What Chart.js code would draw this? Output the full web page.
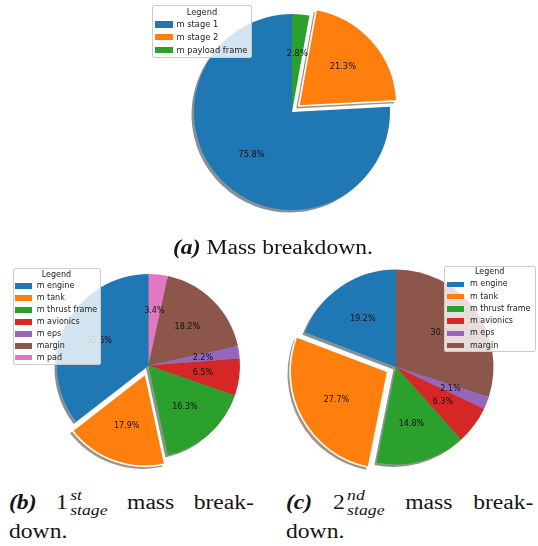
<!DOCTYPE html>
<html><head><meta charset="utf-8">
<script src="https://cdn.jsdelivr.net/npm/chart.js@4"></script>
<style>
html,body{margin:0;padding:0;background:#fff;width:538px;height:546px;overflow:hidden}
#wrap{position:relative;width:538px;height:546px}
canvas{position:absolute}
.legend{position:absolute;background:rgba(255,255,255,0.8);border:1px solid #cccccc;border-radius:2px;font-family:"DejaVu Sans";color:#222;box-sizing:border-box;z-index:5}
.legend div{position:absolute;white-space:nowrap}
.cap{position:absolute;font-family:"Liberation Serif";color:#151515;white-space:nowrap;font-size:20px;line-height:20px;transform-origin:0 0}
.bi{font-weight:bold;font-style:italic}
.line{display:flex;justify-content:space-between;align-items:baseline}
.scr{display:inline-block;font-style:italic;font-size:15px;line-height:15px;vertical-align:-6px;margin-left:2px}
.scr span{display:block}
</style></head>
<body><div id="wrap">
<canvas id="pa" width="224" height="224" style="left:180px;top:0px;width:224px;height:224px"></canvas>
<canvas id="pb" width="211" height="211" style="left:43px;top:260px;width:211px;height:211px"></canvas>
<canvas id="pc" width="222" height="222" style="left:285px;top:256px;width:222px;height:222px"></canvas>

<div class="cap" id="capA" style="left:173px;top:237px"><span class="bi">(a)</span> Mass breakdown.</div>
<div class="cap line" id="capB1" style="left:8.5px;top:488px"><span class="bi">(b)</span><span>1<span class="scr"><span>st</span><span>stage</span></span></span><span>mass</span><span>break-</span></div>
<div class="cap" id="capB2" style="left:8.5px;top:521px">down.</div>
<div class="cap line" id="capC1" style="left:285.5px;top:488px"><span class="bi">(c)</span><span>2<span class="scr"><span>nd</span><span>stage</span></span></span><span>mass</span><span>break-</span></div>
<div class="cap" id="capC2" style="left:286px;top:521px">down.</div>
</div>
<script>
// ---- data ----
const legendTitle = 'Legend';
const labelsA = ['m stage 1', 'm stage 2', 'm payload frame'];
const valuesA = [75.84, 21.32, 2.84];
const labelsB = ['m engine', 'm tank', 'm thrust frame', 'm avionics', 'm eps', 'margin', 'm pad'];
const valuesB = [35.5, 17.9, 16.3, 6.5, 2.2, 18.2, 3.4];
const labelsC = ['m engine', 'm tank', 'm thrust frame', 'm avionics', 'm eps', 'margin'];
const valuesC = [19.2, 27.7, 14.8, 6.3, 2.1, 30.0];

// ---- style ----
const palette = ['#1f77b4', '#ff7f0e', '#2ca02c', '#d62728', '#9467bd', '#8c564b', '#e377c2'];
const SHADOW_DX = -2.5, SHADOW_DY = 2.5;
const ARC_OFFSET_DIV = 4; // Chart.js v4 translates an arc by offset/4

Chart.defaults.font.family = 'DejaVu Sans';

function hexRgb(h){ h=h.replace('#',''); return [parseInt(h.substr(0,2),16),parseInt(h.substr(2,2),16),parseInt(h.substr(4,2),16)]; }

const shadowPlugin = {
  id: 'mplShadow',
  beforeDatasetsDraw(chart){
    const ctx = chart.ctx;
    const meta = chart.getDatasetMeta(0);
    ctx.save();
    ctx.translate(SHADOW_DX, SHADOW_DY);
    meta.data.forEach(el => {
      const o = el.options;
      const c = hexRgb(o.backgroundColor);
      const sc = 'rgba(' + (c[0]*0.3).toFixed(0) + ',' + (c[1]*0.3).toFixed(0) + ',' + (c[2]*0.3).toFixed(0) + ',0.5)';
      el.options = Object.assign({}, o, {backgroundColor: sc, borderColor: sc, borderWidth: 0});
      el.draw(ctx);
      el.options = o;
    });
    ctx.restore();
  }
};

const pctPlugin = {
  id: 'mplPct',
  afterDatasetsDraw(chart, args, opts){
    const ctx = chart.ctx;
    const meta = chart.getDatasetMeta(0);
    const vals = chart.data.datasets[0].data;
    const total = vals.reduce((a,b)=>a+b,0);
    ctx.save();
    ctx.font = opts.size + 'px "DejaVu Sans"';
    ctx.fillStyle = '#111';
    ctx.textAlign = 'center';
    ctx.textBaseline = 'middle';
    meta.data.forEach((el,i) => {
      const p = el.getProps(['x','y','startAngle','endAngle','outerRadius'], true);
      const mid = (p.startAngle + p.endAngle)/2;
      const r = p.outerRadius*0.6 + (el.options.offset||0)/ARC_OFFSET_DIV;
      ctx.fillText((vals[i]/total*100).toFixed(1) + '%', p.x + Math.cos(mid)*r, p.y + Math.sin(mid)*r);
    });
    ctx.restore();
  }
};

function makePie(id, labels, values, cfg){
  const rev = a => a.slice().reverse(); // matplotlib draws counter-clockwise
  const colors = palette.slice(0, labels.length);
  new Chart(document.getElementById(id), {
    type: 'pie',
    data: {
      labels: rev(labels),
      datasets: [{
        data: rev(values),
        backgroundColor: rev(colors),
        borderColor: '#ffffff',
        borderWidth: rev(labels.map(l => l === cfg.explode ? 1.6 : 0)),
        offset: rev(labels.map(l => l === cfg.explode ? cfg.explodeDist*ARC_OFFSET_DIV : 0)),
        hoverOffset: 0
      }]
    },
    options: {
      responsive: false, animation: false, events: [],
      radius: cfg.radius,
      rotation: 0,
      layout: {padding: 0},
      plugins: {legend: {display: false}, tooltip: {enabled: false}, mplPct: {size: cfg.pctSize}}
    },
    plugins: [shadowPlugin, pctPlugin]
  });
}

function makeLegend(labels, b){
  const d = document.createElement('div');
  d.className = 'legend';
  Object.assign(d.style, {left: b.x+'px', top: b.y+'px', width: b.w+'px', height: b.h+'px', fontSize: b.fs+'px'});
  const lh = 12;
  const t = document.createElement('div');
  t.textContent = legendTitle;
  Object.assign(t.style, {left: 0, width: '100%', textAlign: 'center', top: (b.titleY - b.y - 1 - lh/2)+'px', lineHeight: lh+'px'});
  d.appendChild(t);
  labels.forEach((l,i) => {
    const cy = b.row0 + i*b.step - b.y - 1;
    const sw = document.createElement('div');
    Object.assign(sw.style, {left: (b.swX - b.x - 1)+'px', top: (cy - b.swH/2)+'px', width: b.swW+'px', height: b.swH+'px', background: palette[i]});
    d.appendChild(sw);
    const tx = document.createElement('div');
    tx.textContent = l;
    Object.assign(tx.style, {left: (b.textX - b.x - 1)+'px', top: (cy - lh/2)+'px', lineHeight: lh+'px'});
    d.appendChild(tx);
  });
  document.getElementById('wrap').appendChild(d);
}

makePie('pa', labelsA, valuesA, {radius: 98, explode: 'm stage 2', explodeDist: 9, pctSize: 8.3});
makePie('pb', labelsB, valuesB, {radius: 91.5, explode: 'm tank', explodeDist: 9, pctSize: 8});
makePie('pc', labelsC, valuesC, {radius: 97.5, explode: 'm tank', explodeDist: 9.5, pctSize: 8});

makeLegend(labelsA, {x:152, y:5, w:100, h:52.5, fs:8.3, titleY:12.4, row0:24.4, step:12.8, swX:154.5, swW:18, swH:6.5, textX:176.5});
makeLegend(labelsB, {x:12.5, y:268, w:88, h:97, fs:8, titleY:275, row0:286, step:11.95, swX:15, swW:16.7, swH:5.5, textX:36.7});
makeLegend(labelsC, {x:443.5, y:265.5, w:92.5, h:86.5, fs:8, titleY:272.3, row0:284.3, step:12.28, swX:447, swW:16.5, swH:5.5, textX:470});

// stretch captions horizontally to the measured widths
const capA = document.getElementById('capA');
const s = 200 / capA.getBoundingClientRect().width;
capA.style.transform = 'scaleX(' + s + ')';
[['capB1', 245], ['capC1', 247.5]].forEach(([id, w]) => {
  const e = document.getElementById(id);
  e.style.width = (w / s) + 'px';
  e.style.transform = 'scaleX(' + s + ')';
});
['capB2','capC2'].forEach(id => { document.getElementById(id).style.transform = 'scaleX(' + s + ')'; });
</script>
</body></html>
